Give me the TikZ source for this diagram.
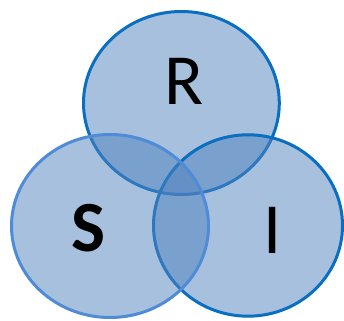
\documentclass[tikz,border=0pt]{standalone}
\usepackage{fontspec}
\setmainfont{Carlito}
\definecolor{fillblue}{HTML}{4F81BD}
\definecolor{darkline}{HTML}{0B6FC1}
\definecolor{lightline}{HTML}{4F8BD6}
\tikzset{
  vennset/.style={fill=fillblue, fill opacity=0.5, line width=3pt},
  vennlabel/.style={font=\fontsize{72}{72}\selectfont, text=black, inner sep=0pt, anchor=base}
}
\begin{document}
\begin{tikzpicture}[x=1pt,y=-1pt]
\useasboundingbox (0,0) rectangle (344,320);
\path[vennset, draw=darkline] (181.4,103) ellipse [x radius=97.9, y radius=91.5];
\path[vennset, draw=darkline] (248,225.5) ellipse [x radius=94.5, y radius=90.7];
\path[vennset, draw=lightline] (110,226) ellipse [x radius=98.5, y radius=91.5];
\node[vennlabel] (R) at (183.7,105) {R};
\node[vennlabel] (S) at (88.4,251.5) {\textbf{S}};
\node[vennlabel] (I) at (272.7,253.3) {I};
\end{tikzpicture}
\end{document}
